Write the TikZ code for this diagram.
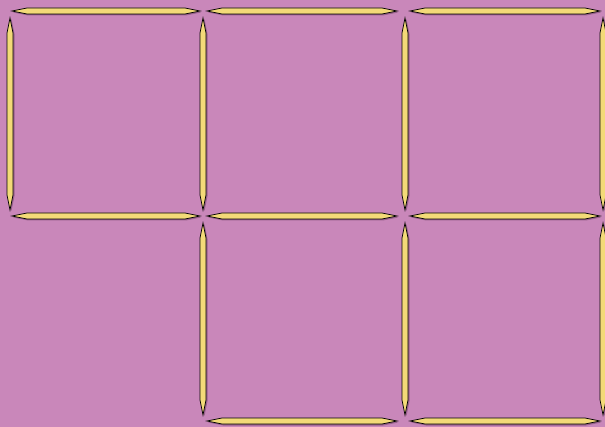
\documentclass[tikz,border=0pt]{standalone}
\definecolor{bgc}{RGB}{201,135,186}
\definecolor{stickc}{RGB}{243,218,120}
\definecolor{shadc}{RGB}{120,70,110}
\newcommand\hstick[3]{% x1 x2 y
  \fill[shadc,opacity=0.6] (#1+1,#3+1.5) -- (#1+16,#3-1.5) -- (#2-14,#3-1.5) -- (#2+1,#3+1.5) -- (#2-14,#3+4.5) -- (#1+16,#3+4.5) -- cycle;
  \filldraw[fill=stickc,draw=black,line width=0.7pt,line join=miter] (#1,#3) -- (#1+15,#3-3) -- (#2-15,#3-3) -- (#2,#3) -- (#2-15,#3+3) -- (#1+15,#3+3) -- cycle;}
\newcommand\vstick[3]{% x y1 y2
  \fill[shadc,opacity=0.6] (#1+1.5,#2+1) -- (#1+4.5,#2+16) -- (#1+4.5,#3-14) -- (#1+1.5,#3+1) -- (#1-1.5,#3-14) -- (#1-1.5,#2+16) -- cycle;
  \filldraw[fill=stickc,draw=black,line width=0.7pt,line join=miter] (#1,#2) -- (#1+3,#2+15) -- (#1+3,#3-15) -- (#1,#3) -- (#1-3,#3-15) -- (#1-3,#2+15) -- cycle;}
\begin{document}
\begin{tikzpicture}[x=1pt,y=-1pt]
\fill[bgc] (0,0) rectangle (605,427);
\useasboundingbox (0,0) rectangle (605,427);
% top horizontals
\hstick{12}{200}{11}
\hstick{207}{397}{11}
\hstick{410}{600}{11}
% top row verticals
\vstick{10}{18}{210}
\vstick{203}{18}{210}
\vstick{405}{18}{210}
\vstick{603}{18}{210}
% middle horizontals
\hstick{12}{200}{216}
\hstick{207}{397}{216}
\hstick{410}{600}{216}
% bottom row verticals
\vstick{203}{223}{415}
\vstick{405}{223}{415}
\vstick{603}{223}{415}
% bottom horizontals
\hstick{207}{397}{421}
\hstick{410}{600}{421}
\end{tikzpicture}
\end{document}
